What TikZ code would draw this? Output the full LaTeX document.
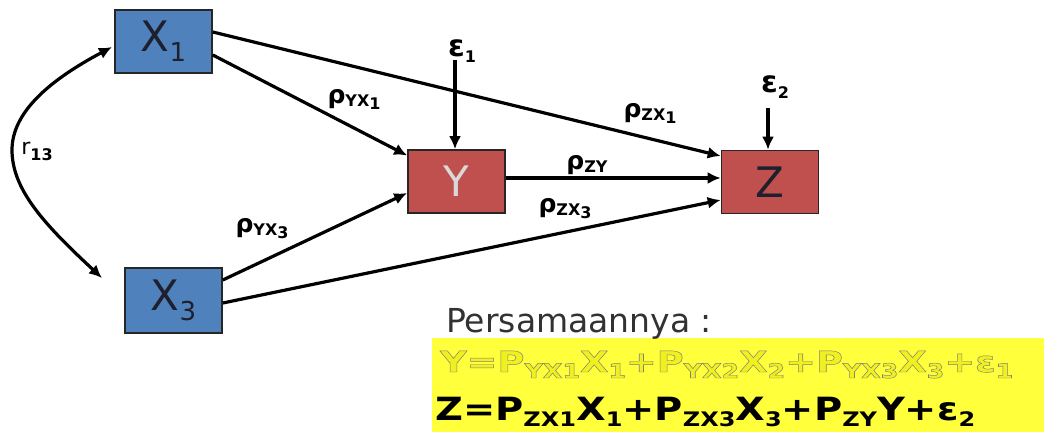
\documentclass[tikz,border=0pt]{standalone}
\usepackage{fontspec}
\setmainfont{DejaVu Sans}
\usetikzlibrary{arrows.meta,calc}
\definecolor{boxblue}{RGB}{79,129,189}
\definecolor{boxred}{RGB}{192,80,77}
\definecolor{hl}{RGB}{255,255,60}
\definecolor{ytext}{RGB}{240,240,30}
\definecolor{txtgray}{RGB}{30,32,45}
\definecolor{headgray}{RGB}{50,50,50}
\newcommand\bsub[1]{\raisebox{-10pt}{\fontsize{26}{26}\selectfont #1}}
\newcommand\lsub[2]{\raisebox{-3pt}{\fontsize{16}{16}\selectfont\bfseries #1}\raisebox{-6pt}{\fontsize{16}{16}\selectfont\bfseries #2}}
\newcommand\esub[1]{\raisebox{-6pt}{\fontsize{20}{20}\selectfont\bfseries #1}}
\newcommand\outlineon{\special{pdf:literal direct 2 Tr 0.45 w 0.5 G}}
\newcommand\outlineoff{\special{pdf:literal direct 0 Tr}}
\begin{document}
\begin{tikzpicture}[x=1pt,y=-1pt,
  var/.style={draw=black!85, line width=1.6pt, minimum width=97pt, minimum height=63pt,
    inner sep=0pt, font=\fontsize{42}{42}\selectfont, text=txtgray},
  arr/.style={line width=3.2pt, -{Latex[length=13pt,width=12pt]}},
  dbl/.style={line width=3.2pt, {Latex[length=13pt,width=12pt]}-{Latex[length=13pt,width=12pt]}},
  lab/.style={inner sep=0pt, font=\bfseries\fontsize{25}{25}\selectfont},
]
\useasboundingbox (0,0) rectangle (1044,432);
% boxes
\node[var, fill=boxblue] (X1) at (163.5,41.5) {X\bsub{1}};
\node[var, fill=boxblue, minimum height=65pt] (X3) at (173.5,300.5) {X\bsub{3}};
\node[var, fill=boxred, text=white!85!black] (Y) at (456.5,181.5) {Y};
\node[var, fill=boxred] (Z) at (770,182) {Z};
% error terms
\node[lab, font=\bfseries\fontsize{30}{30}\selectfont] (e1) at (462,51) {ε\lsub{}{1}};
\node[lab, font=\bfseries\fontsize{30}{30}\selectfont] (e2) at (775,87) {ε\lsub{}{2}};
\coordinate (e1s) at (455,60);
\coordinate (e2s) at (768,108);
\draw[arr] (e1s) -- (Y.north -| e1s);
\draw[arr] (e2s) -- (Z.north -| e2s);
% paths
\draw[arr] ([yshift=-13.5pt]X1.east) -- ([yshift=26pt]Y.west);
\draw[arr] ([yshift=9.5pt]X1.east) -- ([yshift=26pt]Z.west);
\draw[arr] ([yshift=3.5pt]Y.east) -- ([yshift=4pt]Z.west);
\draw[arr] ([yshift=20.5pt]X3.east) -- ([yshift=-11.5pt]Y.west);
\draw[arr] ([yshift=-2.5pt]X3.east) -- ([yshift=-18pt]Z.west);
% correlation
\coordinate (ra) at (102,278);
\coordinate (rm) at (12,150);
\coordinate (rb) at (112,47);
\draw[dbl] (ra) .. controls (45,225) and (12,190) .. (rm) .. controls (12,112) and (50,80) .. (rb);
\node[inner sep=0pt, font=\fontsize{22}{22}\selectfont] (r13) at (37,151) {r\lsub{}{13}};
% labels
\node[lab] (lyx1) at (354,99) {ρ\lsub{YX}{1}};
\node[lab] (lzx1) at (650,113) {ρ\lsub{ZX}{1}};
\node[lab] (lzy) at (587,165) {ρ\lsub{ZY}{}};
\node[lab] (lzx3) at (565,209) {ρ\lsub{ZX}{3}};
\node[lab] (lyx3) at (262,229) {ρ\lsub{YX}{3}};
% equations
\fill[hl] (432,338) rectangle (1044,432);
\node[anchor=base west, inner sep=0pt, text=headgray, font=\fontsize{33}{33}\selectfont] (pers) at (446,332) {Persamaannya :};
\node[anchor=base west, inner sep=0pt, font=\bfseries\fontsize{32}{32}\selectfont] (zeq) at (435,420)
  {\resizebox{540pt}{\height}{Z=P\esub{ZX1}X\esub{1}+P\esub{ZX3}X\esub{3}+P\esub{ZY}Y+ε\esub{2}}};
\node[anchor=base west, inner sep=0pt, text=ytext, font=\bfseries\fontsize{29}{29}\selectfont] (yeq) at (440,372)
  {\resizebox{573pt}{\height}{\outlineon Y=P\esub{YX1}X\esub{1}+P\esub{YX2}X\esub{2}+P\esub{YX3}X\esub{3}+ε\esub{1}\outlineoff}};
\end{tikzpicture}
\end{document}
